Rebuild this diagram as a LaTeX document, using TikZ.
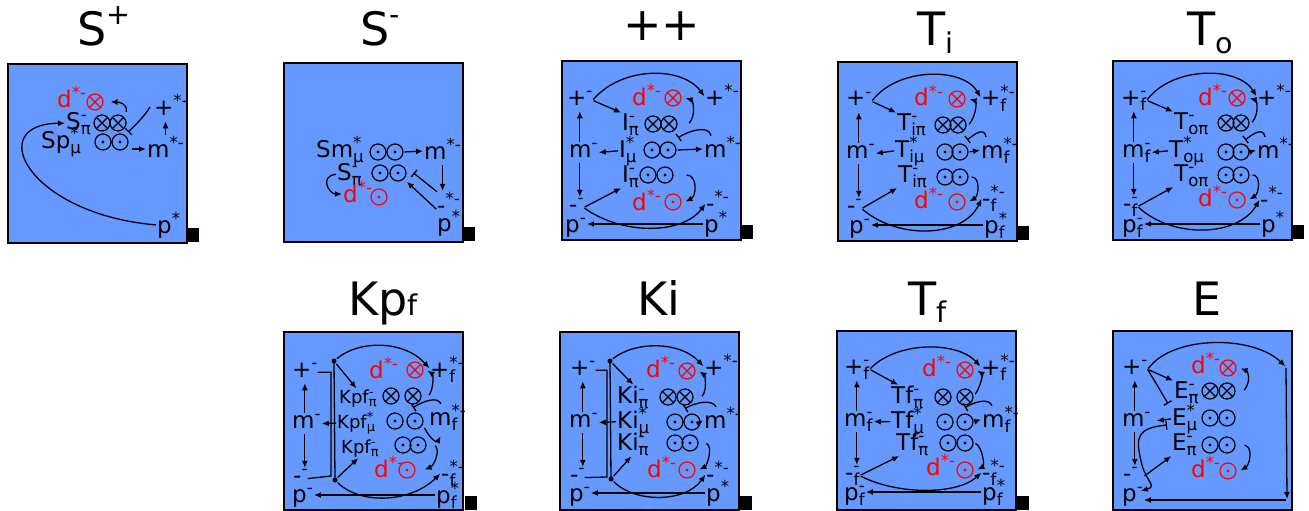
\documentclass[tikz,border=0pt]{standalone}
\usepackage{fontspec}
\setmainfont{DejaVu Sans}
\usepackage{graphicx}
\usetikzlibrary{arrows.meta}
\definecolor{boxblue}{RGB}{102,153,255}
\newcommand\lblfont{\fontsize{23}{25}\selectfont}
\newcommand\smlfont{\fontsize{18}{20}\selectfont}
\newcommand\ttlfont{\fontsize{46}{50}\selectfont}
% base with stacked subscript and superscript
\newcommand\subsup[3]{#1%
  \setbox0=\hbox{\raisebox{0.38em}{\scalebox{0.72}{#3}}}%
  \setbox2=\hbox{\raisebox{-0.22em}{\scalebox{0.72}{#2}}}%
  \ifdim\wd0>\wd2 \rlap{\box2}\box0 \else\rlap{\box0}\box2 \fi}
\newcommand\tsup[1]{\raisebox{0.47em}{\scalebox{0.62}{#1}}}
\newcommand\tsub[1]{\raisebox{-0.16em}{\scalebox{0.62}{#1}}}
\tikzset{
  panel/.style={draw=black, line width=2pt, fill=boxblue},
  tab/.style={fill=black},
  lab/.style={anchor=base west, inner sep=0pt, font=\lblfont},
  slab/.style={lab, font=\smlfont},
  rlab/.style={lab, text=red},
  ttl/.style={anchor=base west, inner sep=0pt, font=\ttlfont},
  sym/.style={circle, draw, line width=1.2pt, minimum size=16pt, inner sep=0pt},
  xsym/.style={sym, draw=#1, path picture={\draw[line width=1.2pt, #1] (path picture bounding box.north west) -- (path picture bounding box.south east) (path picture bounding box.north east) -- (path picture bounding box.south west);}},
  xsym/.default=black,
  dsym/.style={sym, draw=#1, path picture={\fill[#1] (path picture bounding box.center) circle (1.7pt);}},
  dsym/.default=black,
  arr/.style={-{Latex[length=7pt,width=6pt]}, line width=1.3pt, shorten >=1pt, shorten <=1pt},
  tee/.style={-{Bar[width=9pt]}, line width=1.3pt},
  teearr/.style={{Bar[width=9pt]}-{Latex[length=7pt,width=6pt]}, line width=1.3pt},
  ln/.style={line width=1.3pt},
  jn/.style={circle, fill=black, inner sep=0pt, minimum size=5pt},
}

\begin{document}
\begin{tikzpicture}[x=1pt, y=-1pt]
\useasboundingbox (0,0) rectangle (1309,511);

% titles
\node[ttl] (tSp) at (77,46) {S\tsup{+}};
\node[ttl] (tSm) at (360,46) {S\tsup{-}};
\node[ttl] (tpp) at (623,41) {++};
\node[ttl] (tTi) at (917,46) {T\tsub{i}};
\node[ttl] (tTo) at (1187,46) {T\tsub{o}};
\node[ttl] (tKp) at (348,315) {Kp\scalebox{0.62}{f}};
\node[ttl] (tKi) at (637,315) {Ki};
\node[ttl] (tTf) at (908,315) {T\tsub{f}};
\node[ttl] (tE) at (1192,315) {E};

% S+
\begin{scope}[shift={(8,64)}, name prefix=sp-]
\draw[panel] (0,0) rectangle (179,179);
\fill[tab] (180,164) rectangle (191,178);
\node[rlab] (d) at (49,43) {\subsup{d}{}{*-}};
\node[xsym=red] (rx) at (87,38) {};
\node[lab] (pi) at (58,65) {\subsup{S}{π}{-}};
\node[xsym] (x1) at (94,59) {};
\node[xsym] (x2) at (110,59) {};
\node[lab] (mu) at (33,84) {\subsup{Sp}{μ}{*}};
\node[dsym] (o1) at (95,78) {};
\node[dsym] (o2) at (112,78) {};
\node[lab] (m) at (139,93) {\subsup{m}{}{*-}};
\node[lab] (plus) at (146,51) {\subsup{+}{}{*-}};
\node[lab] (p) at (149,169) {\subsup{p}{}{*}};
\draw[arr] ([shift={(2pt,4pt)}]x2.north east) .. controls +(2,-10) and +(8,0) .. ([xshift=6pt]rx.east);
\draw[arr] ([xshift=2pt]o2.east |- m.west) -- (m.west);
\draw[arr] (m.north) -- (m.north |- plus.south);
\draw[tee] ([xshift=-4pt]plus.west) .. controls +(-6,10) and +(8,-8) .. ([shift={(4pt,-3pt)}]x2.south east);
\draw[arr] (p.west) .. controls (20,150) and (-25,60) .. (pi.west);
\end{scope}

% S-
\begin{scope}[shift={(284,63)}, name prefix=sm-]
\draw[panel] (0,0) rectangle (179,179);
\fill[tab] (180,164) rectangle (191,178);
\node[lab] (mu) at (32,94) {\subsup{Sm}{μ}{*}};
\node[dsym] (o1) at (94,89) {};
\node[dsym] (o2) at (111,89) {};
\node[lab] (m) at (140,96) {\subsup{m}{}{*-}};
\node[lab] (pi) at (53,117) {\subsup{S}{π}{-}};
\node[dsym] (o3) at (96,110) {};
\node[dsym] (o4) at (114,110) {};
\node[rlab] (d) at (59,139) {\subsup{d}{}{*-}};
\node[dsym=red] (rd) at (95,134) {};
\node[lab] (mn) at (153,150) {\subsup{-}{}{*-}};
\node[lab] (p) at (153,168) {\subsup{p}{}{*}};
\draw[arr] (o2.east) -- (m.west);
\draw[arr] (m.south) -- (m.south |- mn.north);
\draw[tee] (mn.north west) -- ([xshift=7pt]o4.east);
\draw[arr] (p.north west) -- ([shift={(2pt,-2pt)}]o4.south east);
\draw[arr] (pi.west) .. controls +(-18,2) and +(-14,0) .. (d.west);
\end{scope}

% ++
\begin{scope}[shift={(562,61)}, name prefix=pp-]
\draw[panel] (0,0) rectangle (179,179);
\fill[tab] (180,164) rectangle (191,178);
\node[lab] (plusL) at (5,44) {\subsup{+}{}{-}};
\node[lab] (mL) at (7,96) {\subsup{m}{}{-}};
\node[lab] (minL) at (7,151) {\subsup{-}{}{-}};
\node[lab] (pL) at (3,171) {\subsup{p}{}{-}};
\node[rlab] (dup) at (70,44) {\subsup{d}{}{*-}};
\node[xsym=red] (rup) at (111,37) {};
\node[lab] (plusR) at (143,44) {\subsup{+}{}{*-}};
\node[lab] (piup) at (60,69) {\subsup{I}{π}{-}};
\node[xsym] (ou1) at (91,63) {};
\node[xsym] (ou2) at (107,63) {};
\node[lab] (mu) at (57,96) {\subsup{I}{μ}{*}};
\node[dsym] (om1) at (90,89) {};
\node[dsym] (om2) at (106,89) {};
\node[lab] (mR) at (142,96) {\subsup{m}{}{*-}};
\node[lab] (pidn) at (60,121) {\subsup{I}{π}{-}};
\node[dsym] (od1) at (86,114) {};
\node[dsym] (od2) at (103,114) {};
\node[rlab] (ddn) at (70,149) {\subsup{d}{}{*-}};
\node[dsym=red] (rdn) at (111,141) {};
\node[lab] (minR) at (144,150) {\subsup{-}{}{*-}};
\node[lab] (pR) at (142,171) {\subsup{p}{}{*}};
\draw[arr] (plusL.east) .. controls (60,5) and (120,5) .. (plusR.west);
\draw[arr] (plusL.east) -- (piup.north west);
\draw[arr] (plusL.south |- mL.north) -- (plusL.south);
\draw[arr] (plusL.south |- mL.south) -- (plusL.south |- minL.north);
\draw[arr] (mu.west) -- (mL.east);
\draw[arr] (om2.east) -- (mR.west);
\draw[tee] ([xshift=7pt]mR.north west) .. controls +(-2,-12) and +(8,-6) .. ([shift={(4pt,6pt)}]om2.north east);
\draw[arr] ([xshift=11pt]ou2.east) .. controls +(8,-10) and +(8,2) .. ([xshift=3pt]rup.east);
\draw[arr] ([xshift=12pt]od2.east) .. controls +(12,0) and +(12,-6) .. ([xshift=3pt]rdn.east);
\draw[arr] (minL.east) -- (pidn.south west);
\draw[arr] (minL.east) .. controls (60,174) and (120,174) .. (minR.west);
\draw[arr] (pR.west) -- (pR.west -| pL.east);
\end{scope}

% Ti
\begin{scope}[shift={(838,62)}, name prefix=ti-]
\draw[panel] (0,0) rectangle (179,179);
\fill[tab] (180,164) rectangle (191,178);
\node[lab] (plusL) at (8,44) {\subsup{+}{}{-}};
\node[lab] (mL) at (8,96) {\subsup{m}{}{-}};
\node[lab] (minL) at (9,151) {\subsup{-}{}{-}};
\node[lab] (pL) at (11,171) {\subsup{p}{}{-}};
\node[rlab] (dup) at (76,44) {\subsup{d}{}{*-}};
\node[xsym=red] (rup) at (119,37) {};
\node[lab] (plusR) at (143,44) {\subsup{+}{f}{*-}};
\node[lab] (piup) at (59,68) {\subsup{T}{iπ}{-}};
\node[xsym] (ou1) at (105,63) {};
\node[xsym] (ou2) at (120,63) {};
\node[lab] (mu) at (57,95) {\subsup{T}{iμ}{*}};
\node[dsym] (om1) at (107,90) {};
\node[dsym] (om2) at (122,90) {};
\node[lab] (mR) at (143,96) {\subsup{m}{f}{*-}};
\node[lab] (pidn) at (60,120) {\subsup{T}{iπ}{-}};
\node[dsym] (od1) at (107,115) {};
\node[dsym] (od2) at (122,115) {};
\node[rlab] (ddn) at (76,146) {\subsup{d}{}{*-}};
\node[dsym=red] (rdn) at (119,140) {};
\node[lab] (minR) at (144,144) {\subsup{-}{f}{*-}};
\node[lab] (pR) at (146,171) {\subsup{p}{f}{*}};
\draw[arr] (plusL.east) .. controls (60,5) and (125,5) .. (plusR.west);
\draw[arr] (plusL.east) -- (piup.north west);
\draw[arr] (plusL.south |- mL.north) -- (plusL.south);
\draw[arr] (plusL.south |- mL.south) -- (plusL.south |- minL.north);
\draw[arr] (mu.west) -- (mL.east);
\draw[arr] (om2.east) -- (mR.west);
\draw[tee] ([xshift=5pt]mR.north west) .. controls +(-2,-10) and +(8,-6) .. ([shift={(1pt,6pt)}]om2.north east);
\draw[arr] ([xshift=2pt]ou2.east) .. controls +(8,-10) and +(8,2) .. ([xshift=3pt]rup.east);
\draw[arr] ([xshift=2pt]od2.east) .. controls +(10,0) and +(10,-6) .. ([xshift=3pt]rdn.east);
\draw[arr] (minL.east) -- (pidn.south west);
\draw[arr] (minL.east) .. controls (60,178) and (125,176) .. (minR.west);
\draw[arr] (pR.west) -- (pR.west -| pL.east);
\end{scope}

% To
\begin{scope}[shift={(1113,61)}, name prefix=to-]
\draw[panel] (0,0) rectangle (179,179);
\fill[tab] (180,164) rectangle (191,178);
\node[lab] (plusL) at (8,44) {\subsup{+}{f}{-}};
\node[lab] (mL) at (9,96) {\subsup{m}{f}{-}};
\node[lab] (minL) at (10,150) {\subsup{-}{f}{-}};
\node[lab] (pL) at (9,171) {\subsup{p}{f}{-}};
\node[rlab] (dup) at (85,44) {\subsup{d}{}{*-}};
\node[xsym=red] (rup) at (124,37) {};
\node[lab] (plusR) at (144,44) {\subsup{+}{}{*-}};
\node[lab] (piup) at (61,68) {\subsup{T}{oπ}{-}};
\node[xsym] (ou1) at (113,62) {};
\node[xsym] (ou2) at (128,62) {};
\node[lab] (mu) at (56,96) {\subsup{T}{oμ}{*}};
\node[dsym] (om1) at (113,91) {};
\node[dsym] (om2) at (128,91) {};
\node[lab] (mR) at (144,97) {\subsup{m}{}{*-}};
\node[lab] (pidn) at (61,120) {\subsup{T}{oπ}{-}};
\node[dsym] (od1) at (113,114) {};
\node[dsym] (od2) at (128,114) {};
\node[rlab] (ddn) at (85,145) {\subsup{d}{}{*-}};
\node[dsym=red] (rdn) at (124,139) {};
\node[lab] (minR) at (147,146) {\subsup{-}{}{*-}};
\node[lab] (pR) at (148,171) {\subsup{p}{}{*}};
\draw[arr] (plusL.east) .. controls (60,5) and (125,5) .. (plusR.west);
\draw[arr] (plusL.east) -- (piup.north west);
\draw[arr] (plusL.south |- mL.north) -- (plusL.south);
\draw[arr] (plusL.south |- mL.south) -- (plusL.south |- minL.north);
\draw[arr] (mu.west) -- (mL.east);
\draw[arr] (om2.east) -- (mR.west);
\draw[tee] ([xshift=8pt]mR.north west) .. controls +(-2,-10) and +(8,-6) .. ([shift={(-2pt,6pt)}]om2.north east);
\draw[arr] ([xshift=2pt]ou2.east) .. controls +(8,-10) and +(8,2) .. ([xshift=3pt]rup.east);
\draw[arr] ([xshift=2pt]od2.east) .. controls +(10,0) and +(10,-6) .. ([xshift=3pt]rdn.east);
\draw[arr] (minL.east) -- (pidn.south west);
\draw[arr] (minL.east) .. controls (60,178) and (125,176) .. (minR.west);
\draw[arr] (pR.west) -- (pR.west -| pL.east);
\end{scope}

% Kpf
\begin{scope}[shift={(284,332)}, name prefix=kp-]
\draw[panel] (0,0) rectangle (179,178);
\fill[tab] (181,164) rectangle (193,178);
\node[lab] (plusL) at (8,45) {\subsup{+}{}{-}};
\node[lab] (mL) at (8,96) {\subsup{m}{}{-}};
\node[lab] (minL) at (9,151) {\subsup{-}{}{-}};
\node[lab] (pL) at (8,170) {\subsup{p}{}{-}};
\node[rlab] (dup) at (85,46) {\subsup{d}{}{*-}};
\node[xsym=red] (rup) at (131,38) {};
\node[lab] (plusR) at (146,45) {\subsup{+}{f}{*-}};
\node[slab] (piup) at (55,71) {\subsup{Kpf}{π}{-}};
\node[xsym] (ou1) at (107,64) {};
\node[xsym] (ou2) at (129,64) {};
\node[slab] (mu) at (53,96) {\subsup{Kpf}{μ}{*}};
\node[dsym] (om1) at (111,89) {};
\node[dsym] (om2) at (131,89) {};
\node[lab] (mR) at (145,93) {\subsup{m}{f}{*-}};
\node[slab] (pidn) at (57,121) {\subsup{Kpf}{π}{-}};
\node[dsym] (od1) at (119,113) {};
\node[dsym] (od2) at (134,113) {};
\node[rlab] (ddn) at (90,145) {\subsup{d}{}{*-}};
\node[dsym=red] (rdn) at (123,138) {};
\node[lab] (minR) at (157,149) {\subsup{-}{f}{*-}};
\node[lab] (pR) at (152,171) {\subsup{p}{f}{*}};
\node[jn] (jt) at (50,29) {};
\node[jn] (jb) at (51,148) {};
\coordinate (bk) at (47,144);
\draw[ln] (plusL.east) -| (bk) -- (minL.east);
\draw[ln] (jt.center) -- (jb.center);
\draw[arr] (jt) .. controls (75,8) and (120,8) .. (plusR.west);
\draw[arr] (jt) -- ([xshift=18pt]piup.north west);
\draw[arr] (jb) .. controls (75,172) and (125,172) .. (minR.west);
\draw[arr] (jb) -- ([xshift=18pt]pidn.south west);
\draw[arr] (plusL.south |- mL.north) -- (plusL.south);
\draw[arr] (plusL.south |- mL.south) -- (plusL.south |- minL.north);
\draw[arr] (mu.west) -- (mL.east);
\draw[tee] ([xshift=12pt]mR.north west) .. controls +(-4,-8) and +(10,-6) .. ([yshift=-3pt]ou2.south);
\draw[arr] ([xshift=3pt]om2.south east) .. controls +(6,12) and +(-4,8) .. ([shift={(12pt,-5pt)}]mR.south west);
\draw[arr] ([xshift=7pt]ou2.east) .. controls +(6,-10) and +(6,4) .. ([xshift=3pt]rup.east);
\draw[arr] ([xshift=8pt]od2.east) .. controls +(6,6) and +(10,-4) .. ([xshift=8pt]rdn.east);
\draw[arr] (pR.west) -- (pR.west -| pL.east);
\end{scope}

% Ki
\begin{scope}[shift={(560,332)}, name prefix=ki-]
\draw[panel] (0,0) rectangle (179,178);
\fill[tab] (180,164) rectangle (192,178);
\node[lab] (plusL) at (10,43) {\subsup{+}{}{-}};
\node[lab] (mL) at (9,95) {\subsup{m}{}{-}};
\node[lab] (minL) at (10,150) {\subsup{-}{}{-}};
\node[lab] (pL) at (9,169) {\subsup{p}{}{-}};
\node[rlab] (dup) at (86,45) {\subsup{d}{}{*-}};
\node[xsym=red] (rup) at (127,39) {};
\node[lab] (plusR) at (144,43) {\subsup{+}{}{*-}};
\node[lab] (piup) at (57,71) {\subsup{Ki}{π}{-}};
\node[xsym] (ou1) at (108,65) {};
\node[xsym] (ou2) at (125,65) {};
\node[lab] (mu) at (57,96) {\subsup{Ki}{μ}{*}};
\node[dsym] (om1) at (115,90) {};
\node[dsym] (om2) at (132,90) {};
\node[lab] (mR) at (144,96) {\subsup{m}{}{*-}};
\node[lab] (pidn) at (57,118) {\subsup{Ki}{π}{-}};
\node[dsym] (od1) at (115,111) {};
\node[dsym] (od2) at (130,111) {};
\node[rlab] (ddn) at (87,145) {\subsup{d}{}{*-}};
\node[dsym=red] (rdn) at (127,138) {};
\node[lab] (minR) at (146,150) {\subsup{-}{}{*-}};
\node[lab] (pR) at (146,169) {\subsup{p}{}{*}};
\node[jn] (jt) at (50,29) {};
\node[jn] (jb) at (51,147) {};
\coordinate (bk) at (47,145);
\draw[ln] (plusL.east) -| (bk) -- (minL.east);
\draw[ln] (jt.center) -- (jb.center);
\draw[arr] (jt) .. controls (75,9) and (120,9) .. (plusR.west);
\draw[arr] (jt) -- ([xshift=17pt]piup.north west);
\draw[arr] (jb) .. controls (75,171) and (125,171) .. (minR.west);
\draw[arr] (jb) -- ([xshift=15pt]pidn.south west);
\draw[arr] (plusL.south |- mL.north) -- (plusL.south);
\draw[arr] (plusL.south |- mL.south) -- (plusL.south |- minL.north);
\draw[arr] (mu.west) -- (mL.east);
\draw[arr] (om2.east) -- (mR.west);
\draw[tee] ([xshift=12pt]mR.north west) .. controls +(-4,-8) and +(10,-6) .. ([yshift=-3pt]ou2.south);
\draw[arr] ([xshift=8pt]ou2.east) .. controls +(6,-8) and +(6,4) .. ([xshift=3pt]rup.east);
\draw[arr] ([xshift=7pt]od2.east) .. controls +(8,4) and +(8,-4) .. ([xshift=3pt]rdn.east);
\draw[arr] (pR.west) -- (pR.west -| pL.east);
\end{scope}

% Tf
\begin{scope}[shift={(837,331)}, name prefix=tf-]
\draw[panel] (0,0) rectangle (179,179);
\fill[tab] (180,165) rectangle (192,179);
\node[lab] (plusL) at (7,43) {\subsup{+}{f}{-}};
\node[lab] (mL) at (7,95) {\subsup{m}{f}{-}};
\node[lab] (minL) at (8,149) {\subsup{-}{f}{-}};
\node[lab] (pL) at (7,169) {\subsup{p}{f}{-}};
\node[rlab] (dup) at (85,45) {\subsup{d}{}{*-}};
\node[xsym=red] (rup) at (128,39) {};
\node[lab] (plusR) at (144,44) {\subsup{+}{f}{*-}};
\node[lab] (piup) at (54,72) {\subsup{Tf}{π}{-}};
\node[xsym] (ou1) at (106,66) {};
\node[xsym] (ou2) at (128,66) {};
\node[lab] (mu) at (54,97) {\subsup{Tf}{μ}{*}};
\node[dsym] (om1) at (108,91) {};
\node[dsym] (om2) at (128,91) {};
\node[lab] (mR) at (145,96) {\subsup{m}{f}{*-}};
\node[lab] (pidn) at (59,119) {\subsup{Tf}{π}{-}};
\node[dsym] (od1) at (111,112) {};
\node[dsym] (od2) at (128,112) {};
\node[rlab] (ddn) at (89,144) {\subsup{d}{}{*-}};
\node[dsym=red] (rdn) at (128,139) {};
\node[lab] (minR) at (145,149) {\subsup{-}{f}{*-}};
\node[lab] (pR) at (145,169) {\subsup{p}{f}{*}};
\draw[arr] (plusL.east) .. controls (60,10) and (120,10) .. (plusR.west);
\draw[arr] (plusL.east) -- ([xshift=8pt]piup.north west);
\draw[arr] (plusL.south |- mL.north) -- (plusL.south);
\draw[arr] (plusL.south |- mL.south) -- (plusL.south |- minL.north);
\draw[arr] (mu.west) -- (mL.east);
\draw[arr] (om2.east) -- (mR.west);
\draw[tee] ([xshift=10pt]mR.north west) .. controls +(-3,-8) and +(10,-6) .. ([yshift=-2pt]ou2.south);
\draw[arr] ([shift={(1pt,2pt)}]ou2.east) .. controls +(6,-8) and +(6,4) .. ([xshift=3pt]rup.east);
\draw[arr] ([xshift=1pt]od2.east) .. controls +(8,4) and +(8,-4) .. ([xshift=3pt]rdn.east);
\draw[arr] (minL.east) -- ([xshift=4pt]pidn.south west);
\draw[arr] (minL.east) .. controls (60,164) and (120,164) .. (minR.west);
\draw[arr] (pR.west) -- (pR.west -| pL.east);
\end{scope}

% E
\begin{scope}[shift={(1113,331)}, name prefix=e-]
\draw[panel] (0,0) rectangle (179,179);
\node[lab] (plusL) at (9,43) {\subsup{+}{}{-}};
\node[lab] (mL) at (9,95) {\subsup{m}{}{-}};
\node[lab] (minL) at (10,150) {\subsup{-}{}{-}};
\node[lab] (pL) at (9,170) {\subsup{p}{}{-}};
\node[rlab] (dup) at (78,42) {\subsup{d}{}{*-}};
\node[xsym=red] (rup) at (115,37) {};
\node[lab] (piup) at (61,67) {\subsup{E}{π}{-}};
\node[xsym] (ou1) at (97,60) {};
\node[xsym] (ou2) at (114,60) {};
\node[lab] (mu) at (59,94) {\subsup{E}{μ}{*}};
\node[dsym] (om1) at (97,87) {};
\node[dsym] (om2) at (114,87) {};
\node[lab] (pidn) at (59,119) {\subsup{E}{π}{-}};
\node[dsym] (od1) at (97,114) {};
\node[dsym] (od2) at (114,114) {};
\node[rlab] (ddn) at (78,146) {\subsup{d}{}{*-}};
\node[dsym=red] (rdn) at (115,140) {};
\coordinate (rt) at (173,36);
\coordinate (rb) at (174,169);
\draw[arr] (plusL.east) .. controls (60,4) and (140,4) .. (rt);
\draw[arr] (rt) -- (rb);
\draw[arr] (rb) -- (rb -| pL.east);
\draw[arr] (plusL.east) -- (piup.north west);
\draw[tee] (plusL.east) -- ([xshift=-6pt]piup.south west);
\draw[arr] (plusL.south |- mL.north) -- (plusL.south);
\draw[arr] (plusL.south |- mL.south) -- (plusL.south |- minL.north);
\draw[arr, shorten >=6pt] (mu.west) -- (mL.east);
\draw[teearr] ([xshift=-5pt]mu.base west) .. controls (25,97) and (22,105) .. (28,130) .. controls (32,150) and (45,155) .. ([shift={(-2pt,-4pt)}]pL.north east);
\draw[arr] ([xshift=6pt]minL.east) -- (pidn.south west);
\draw[arr] ([xshift=8pt]ou2.east) .. controls +(8,-10) and +(8,3) .. ([xshift=3pt]rup.east);
\draw[arr] ([xshift=8pt]od2.east) .. controls +(10,2) and +(10,-6) .. ([xshift=3pt]rdn.east);
\end{scope}
\end{tikzpicture}
\end{document}
